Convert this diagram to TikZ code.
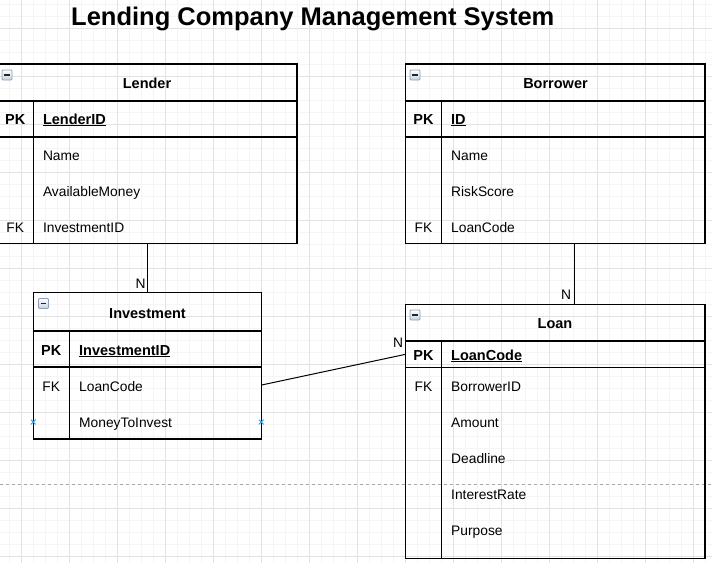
\documentclass[tikz,border=0pt]{standalone}
\usepackage{fontspec}
\setmainfont{Liberation Sans}
\usetikzlibrary{shapes.misc}
\newcommand\hdrfont{\fontsize{14.5}{17}\selectfont\bfseries}
\newcommand\rowfont{\fontsize{13.8}{16}\selectfont}
\newcommand\ttlfont{\fontsize{25.5}{30}\selectfont\bfseries}
\definecolor{gminorc}{RGB}{245,245,245}
\definecolor{gmajorc}{RGB}{226,226,226}
\definecolor{cptc}{RGB}{30,160,240}
\definecolor{iconc}{RGB}{140,160,185}
\definecolor{iconf}{RGB}{200,210,222}
\tikzset{
  gminor/.style={draw=gminorc, line width=1pt},
  gmajor/.style={draw=gmajorc, line width=1pt},
  pagebrk/.style={draw=black!35, line width=1pt, dash pattern=on 3pt off 3pt},
  tbl/.style={draw=black, line width=1.2pt, inner sep=0pt, outer sep=0pt, anchor=north west, rectangle},
  sepl/.style={draw=black, line width=1.2pt},
  hdr/.style={font=\hdrfont, anchor=base, inner sep=0pt},
  keyt/.style={font=\hdrfont, anchor=base, inner sep=0pt},
  fkt/.style={font=\rowfont, anchor=base, inner sep=0pt},
  attr/.style={font=\rowfont, anchor=base west, inner sep=0pt},
  pkattr/.style={font=\hdrfont, anchor=base west, inner sep=0pt},
  conn/.style={draw=black, line width=1pt},
  card/.style={font=\rowfont, inner sep=0pt},
  icon/.style={rectangle, rounded corners=1pt, minimum size=10pt, inner sep=0pt,
    draw=iconc, line width=0.8pt, top color=white, bottom color=iconf,
    path picture={\draw[line width=1.6pt, black!85]
      ([xshift=2.2pt]path picture bounding box.west) -- ([xshift=-2.2pt]path picture bounding box.east);}},
  cpt/.style={cross out, draw=cptc, line width=0.8pt, minimum size=4pt, inner sep=0pt}
}
\begin{document}
\begin{tikzpicture}[x=1pt,y=-1pt]
\useasboundingbox (0,0) rectangle (712,563);
% grid
\foreach \x in {9,21,...,705} \draw[gminor] (\x,0) -- (\x,563);
\foreach \y in {4,16,...,556} \draw[gminor] (0,\y) -- (712,\y);
\foreach \x in {21,69,...,693} \draw[gmajor] (\x,0) -- (\x,563);
\foreach \y in {28,76,...,556} \draw[gmajor] (0,\y) -- (712,\y);
\draw[pagebrk] (0,484) -- (712,484);

% title
\node[anchor=base west, font=\ttlfont, inner sep=0pt] (title) at (71,25) {Lending Company Management System};

% Lender
\node[tbl, minimum width=300pt, minimum height=179.5pt] (lender) at (-3,64) {};
\draw[sepl] (lender.west |- 0,101) -- (lender.east |- 0,101);
\draw[sepl] (lender.west |- 0,137) -- (lender.east |- 0,137);
\draw[sepl] (33.3,101) -- (33.3,101 |- lender.south);
\node[icon] (ic1) at (7,75) {};
\node[hdr] (lenderh) at (147,88) {Lender};
\node[keyt] (lenderpkk) at (15.2,124) {PK};
\node[pkattr] (lenderpk) at (42.8,124) {\underline{LenderID}};
\node[attr] (lender1) at (42.8,160) {Name};
\node[attr] (lender2) at (42.8,196) {AvailableMoney};
\node[fkt] (lenderfk) at (15.2,232) {FK};
\node[attr] (lender3) at (42.8,232) {InvestmentID};

% Borrower
\node[tbl, minimum width=299.5pt, minimum height=179.5pt] (bor) at (405.5,64) {};
\draw[sepl] (bor.west |- 0,101) -- (bor.east |- 0,101);
\draw[sepl] (bor.west |- 0,137) -- (bor.east |- 0,137);
\draw[sepl] (441.5,101) -- (441.5,101 |- bor.south);
\node[icon] (ic2) at (415,75) {};
\node[hdr] (borh) at (555.5,88) {Borrower};
\node[keyt] (borpkk) at (423.5,124) {PK};
\node[pkattr] (borpk) at (451,124) {\underline{ID}};
\node[attr] (bor1) at (451,160) {Name};
\node[attr] (bor2) at (451,196) {RiskScore};
\node[fkt] (borfk) at (423.5,232) {FK};
\node[attr] (bor3) at (451,232) {LoanCode};

% Investment
\node[tbl, minimum width=228pt, minimum height=146.7pt] (inv) at (33.3,292.3) {};
\draw[sepl] (inv.west |- 0,331) -- (inv.east |- 0,331);
\draw[sepl] (inv.west |- 0,367) -- (inv.east |- 0,367);
\draw[sepl] (69.3,331) -- (69.3,331 |- inv.south);
\node[icon] (ic3) at (43.5,303.5) {};
\node[hdr] (invh) at (147.5,318) {Investment};
\node[keyt] (invpkk) at (51.3,355) {PK};
\node[pkattr] (invpk) at (79,355) {\underline{InvestmentID}};
\node[fkt] (invfk) at (51.3,391) {FK};
\node[attr] (inv1) at (79,391) {LoanCode};
\node[attr] (inv2) at (79,427) {MoneyToInvest};
\node[cpt] (cp1) at (33.3,422) {};
\node[cpt] (cp2) at (261.3,422) {};

% Loan
\node[tbl, minimum width=299.5pt, minimum height=253.6pt] (loan) at (405.5,304.7) {};
\draw[sepl] (loan.west |- 0,341) -- (loan.east |- 0,341);
\draw[sepl] (loan.west |- 0,367.3) -- (loan.east |- 0,367.3);
\draw[sepl] (441.5,341) -- (441.5,341 |- loan.south);
\node[icon] (ic4) at (415,315) {};
\node[hdr] (loanh) at (555,328) {Loan};
\node[keyt] (loanpkk) at (423.5,360) {PK};
\node[pkattr] (loanpk) at (451,360) {\underline{LoanCode}};
\node[fkt] (loanfk) at (423.5,391.5) {FK};
\node[attr] (loan1) at (451,391.5) {BorrowerID};
\node[attr] (loan2) at (451,427.5) {Amount};
\node[attr] (loan3) at (451,463.5) {Deadline};
\node[attr] (loan4) at (451,499.5) {InterestRate};
\node[attr] (loan5) at (451,535.5) {Purpose};

% connectors
\draw[conn] (lender.south) -- (lender.south |- inv.north);
\draw[conn] ([xshift=19pt]bor.south) -- ([xshift=19pt]bor.south |- loan.north);
\draw[conn] ([yshift=1pt]inv.east |- inv1) -- ([yshift=1.5pt]loan.west |- loanpk);
\node[card] (n1) at (140.5,283.5) {N};
\node[card] (n2) at (566,295) {N};
\node[card] (n3) at (398,343) {N};
\end{tikzpicture}
\end{document}
